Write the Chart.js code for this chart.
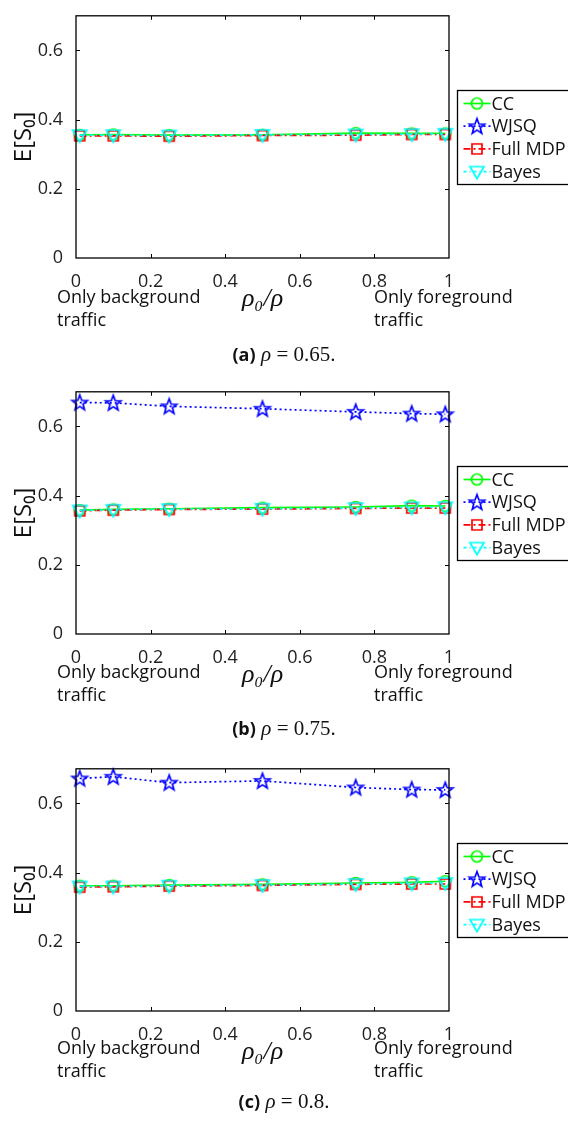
<!DOCTYPE html>
<html>
<head>
<meta charset="utf-8">
<script src="https://cdn.jsdelivr.net/npm/chart.js@4.4.1/dist/chart.umd.min.js"></script>
<style>
  body { margin: 0; background: #fff; width: 568px; height: 1121px; position: relative; overflow: hidden; font-family: "Open Sans", sans-serif; color: #111; }
  canvas { position: absolute; left: 0; }
  .note { position: absolute; font-size: 18px; line-height: 23px; white-space: nowrap; }
  .cap { position: absolute; left: 0; width: 568px; text-align: center; font-size: 21px; line-height: 24px; }
  .cap b { font-family: "Open Sans", sans-serif; font-size: 18px; }
  .cap .m { font-family: "Liberation Serif", serif; }
</style>
</head>
<body>
<canvas id="chart-a" width="568" height="376" style="top:0px"></canvas>
<canvas id="chart-b" width="568" height="376" style="top:376px"></canvas>
<canvas id="chart-c" width="568" height="376" style="top:753px"></canvas>

<div class="note" style="left:57px; top:285px">Only background<br>traffic</div>
<div class="note" style="left:374px; top:285px">Only foreground<br>traffic</div>
<div class="cap" style="top:341px"><b>(a)</b> <span class="m"><i>ρ</i> = 0.65.</span></div>

<div class="note" style="left:57px; top:660px">Only background<br>traffic</div>
<div class="note" style="left:374px; top:660px">Only foreground<br>traffic</div>
<div class="cap" style="top:715px"><b>(b)</b> <span class="m"><i>ρ</i> = 0.75.</span></div>

<div class="note" style="left:57px; top:1036px">Only background<br>traffic</div>
<div class="note" style="left:374px; top:1036px">Only foreground<br>traffic</div>
<div class="cap" style="top:1088px"><b>(c)</b> <span class="m"><i>ρ</i> = 0.8.</span></div>

<script>
// share of foreground load
const loadShare = [0.01, 0.1, 0.25, 0.5, 0.75, 0.9, 0.99];
const seriesNames = ["CC", "WJSQ", "Full MDP", "Bayes"];

const xTicks = [0, 0.2, 0.4, 0.6, 0.8, 1];
const yTicks = [0, 0.2, 0.4, 0.6];
const yMax = 0.7;

// rho = 0.65 (WJSQ has no points inside the axes here)
const cc65 = [0.356, 0.357, 0.355, 0.356, 0.361, 0.360, 0.360];
const wjsq65 = [null, null, null, null, null, null, null];
const mdp65 = [0.353, 0.353, 0.352, 0.354, 0.355, 0.357, 0.357];
const bayes65 = [0.355, 0.355, 0.354, 0.356, 0.357, 0.358, 0.359];

// rho = 0.75
const cc75 = [0.358, 0.360, 0.362, 0.365, 0.367, 0.371, 0.370];
const wjsq75 = [0.669, 0.668, 0.658, 0.651, 0.642, 0.637, 0.635];
const mdp75 = [0.356, 0.358, 0.360, 0.361, 0.363, 0.364, 0.364];
const bayes75 = [0.357, 0.359, 0.361, 0.362, 0.364, 0.366, 0.366];

// rho = 0.8
const cc80 = [0.362, 0.362, 0.364, 0.366, 0.370, 0.372, 0.375];
const wjsq80 = [0.672, 0.677, 0.660, 0.665, 0.646, 0.640, 0.639];
const mdp80 = [0.358, 0.359, 0.361, 0.363, 0.366, 0.367, 0.367];
const bayes80 = [0.360, 0.360, 0.362, 0.364, 0.367, 0.369, 0.370];

const colors = ["#00ff00", "#0000ff", "#ff0000", "#00ffff"];
const dashes = [[], [2, 3], [7, 3, 2, 3], [3, 3, 1, 3]];

// open markers drawn once and reused as point images
function makeMarker(kind, color) {
  const c = document.createElement("canvas");
  c.width = 22;
  c.height = 22;
  const g = c.getContext("2d");
  g.strokeStyle = color;
  g.lineWidth = 1.7;
  g.beginPath();
  if (kind === "circle") {
    g.arc(11, 11, 5.5, 0, Math.PI * 2);
  } else if (kind === "star") {
    for (let i = 0; i < 10; i++) {
      const r = i % 2 === 0 ? 8 : 3.4;
      const a = -Math.PI / 2 + (i * Math.PI) / 5;
      const px = 11 + r * Math.cos(a);
      const py = 11.5 + r * Math.sin(a);
      if (i === 0) g.moveTo(px, py);
      else g.lineTo(px, py);
    }
    g.closePath();
  } else if (kind === "square") {
    g.rect(6, 6, 10, 10);
  } else {
    g.moveTo(4, 6);
    g.lineTo(18, 6);
    g.lineTo(11, 18);
    g.closePath();
  }
  g.stroke();
  return c;
}

const markers = [
  makeMarker("circle", colors[0]),
  makeMarker("star", colors[1]),
  makeMarker("square", colors[2]),
  makeMarker("triangle", colors[3]),
];

const fmt = (v) => String(Math.round(v * 10) / 10);

// axes box with inward ticks on all four sides
const framePlugin = {
  id: "frame",
  afterDatasetsDraw(chart) {
    const { ctx, chartArea: a, scales } = chart;
    ctx.save();
    ctx.strokeStyle = "#000";
    ctx.lineWidth = 1.3;
    ctx.setLineDash([]);
    ctx.strokeRect(a.left, a.top, a.right - a.left, a.bottom - a.top);
    ctx.lineWidth = 1;
    ctx.beginPath();
    xTicks.slice(1, -1).forEach((v) => {
      const px = Math.round(scales.x.getPixelForValue(v)) + 0.5;
      ctx.moveTo(px, a.bottom);
      ctx.lineTo(px, a.bottom - 4);
      ctx.moveTo(px, a.top);
      ctx.lineTo(px, a.top + 4);
    });
    yTicks.slice(1).forEach((v) => {
      const py = Math.round(scales.y.getPixelForValue(v)) + 0.5;
      ctx.moveTo(a.left, py);
      ctx.lineTo(a.left + 4, py);
      ctx.moveTo(a.right, py);
      ctx.lineTo(a.right - 4, py);
    });
    ctx.stroke();
    ctx.restore();
  },
};

// boxed legend to the right of the axes, line sample with marker
const legendPlugin = {
  id: "boxLegend",
  afterDraw(chart) {
    const { ctx, chartArea: a } = chart;
    const midY = (a.top + a.bottom) / 2;
    const left = a.right + 8.5;
    const top = Math.round(midY - 47) + 0.5;
    ctx.save();
    ctx.fillStyle = "#fff";
    ctx.fillRect(left, top, 130, 94);
    ctx.strokeStyle = "#000";
    ctx.lineWidth = 1.3;
    ctx.strokeRect(left, top, 130, 94);
    chart.data.datasets.forEach((ds, i) => {
      const y = top + 13 + i * 22.7;
      ctx.strokeStyle = ds.borderColor;
      ctx.lineWidth = 1.7;
      ctx.setLineDash(ds.borderDash);
      ctx.beginPath();
      ctx.moveTo(left + 6, y);
      ctx.lineTo(left + 33, y);
      ctx.stroke();
      ctx.drawImage(ds.pointStyle, left + 19.5 - 11, y - 11);
      ctx.fillStyle = "#111";
      ctx.font = '18px "Open Sans"';
      ctx.textBaseline = "middle";
      ctx.fillText(ds.label, left + 34, y + 1);
    });
    ctx.restore();
  },
};

function buildChart(id, series) {
  const datasets = series.map((vals, i) => ({
    label: seriesNames[i],
    data: loadShare.map((x, k) => ({ x: x, y: vals[k] })),
    borderColor: colors[i],
    borderWidth: 1.7,
    borderDash: dashes[i],
    pointStyle: markers[i],
    pointRadius: 6,
    fill: false,
    tension: 0,
    clip: false,
    order: 3 - i,
  }));

  return new Chart(document.getElementById(id), {
    type: "line",
    data: { datasets: datasets },
    options: {
      responsive: false,
      animation: false,
      devicePixelRatio: 1,
      layout: { padding: { left: 0, right: 119, top: 6, bottom: 0 } },
      plugins: { legend: { display: false }, tooltip: { enabled: false } },
      scales: {
        x: {
          type: "linear",
          min: 0,
          max: 1,
          afterBuildTicks: (s) => { s.ticks = xTicks.map((v) => ({ value: v })); },
          afterFit: (s) => { s.height = 118; },
          grid: { display: false },
          border: { display: false },
          ticks: {
            autoSkip: false,
            maxRotation: 0,
            padding: 5,
            color: "#222",
            font: { family: "Open Sans", size: 18 },
            callback: (v) => fmt(v),
          },
          title: {
            display: true,
            text: "ρ₀/ρ",
            color: "#111",
            font: { family: "Liberation Serif", size: 26, style: "italic" },
            padding: { top: 0, bottom: 61 },
          },
        },
        y: {
          min: 0,
          max: yMax,
          afterBuildTicks: (s) => { s.ticks = yTicks.map((v) => ({ value: v })); },
          afterFit: (s) => { s.width = 76; },
          grid: { display: false },
          border: { display: false },
          ticks: {
            padding: 5,
            color: "#222",
            font: { family: "Open Sans", size: 18 },
            callback: (v) => fmt(v),
          },
          title: {
            display: true,
            text: "E[S₀]",
            color: "#111",
            font: { family: "Open Sans", size: 24 },
            padding: { top: 10, bottom: 0 },
          },
        },
      },
    },
    plugins: [framePlugin, legendPlugin],
  });
}

buildChart("chart-a", [cc65, wjsq65, mdp65, bayes65]);
buildChart("chart-b", [cc75, wjsq75, mdp75, bayes75]);
buildChart("chart-c", [cc80, wjsq80, mdp80, bayes80]);
</script>
</body>
</html>
